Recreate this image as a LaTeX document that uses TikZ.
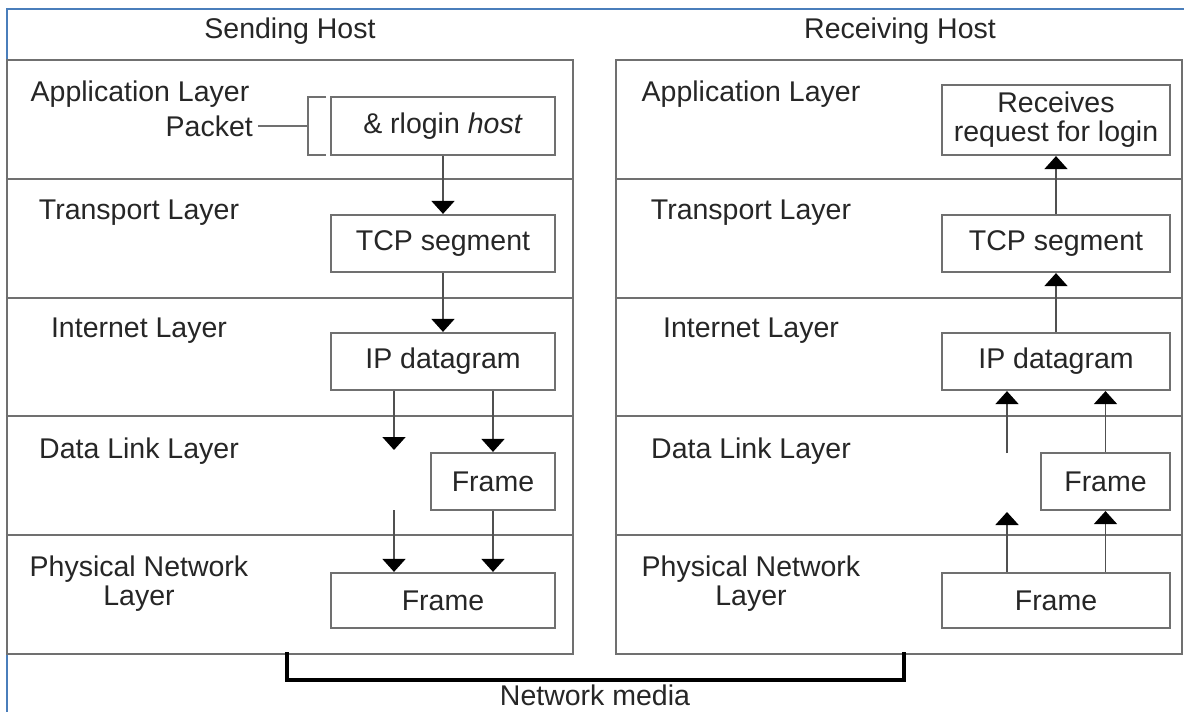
\documentclass[tikz,border=0pt]{standalone}
\usepackage{fontspec}
\setmainfont{Liberation Sans}
\usetikzlibrary{arrows.meta,calc}

\definecolor{framegray}{RGB}{112,112,112}
\definecolor{inkgray}{RGB}{38,38,38}
\definecolor{stemgray}{RGB}{80,80,80}
\definecolor{pageblue}{RGB}{74,126,187}

\tikzset{
  txt/.style={font=\fontsize{28.5}{29}\selectfont, text=inkgray, inner sep=0pt, align=center},
  hostframe/.style={draw=framegray, line width=2.2pt, inner sep=0pt},
  sepline/.style={draw=framegray, line width=2.2pt},
  pdu/.style={draw=framegray, line width=2.2pt, inner sep=0pt, txt},
  arr/.style={draw=stemgray, line width=1.8pt, -{Triangle[width=23pt,length=13pt,color=black]}},
  plainline/.style={draw=framegray, line width=1.8pt},
  media/.style={draw=black, line width=4.2pt, line cap=rect}
}

\begin{document}
\begin{tikzpicture}[x=1pt,y=-1pt]
\useasboundingbox (0,0) rectangle (1184,712);
\fill[white] (0,0) rectangle (1184,712);

% page frame
\draw[pageblue, line width=2.4pt] (7,712) -- (7,9) -- (1184,9);

% host headings
\node[txt] (hsend) at (290,31) {Sending Host};
\node[txt] (hrecv) at (900,31) {Receiving Host};

% host frames
\node[hostframe, minimum width=566pt, minimum height=594pt] (send) at (290,357) {};
\node[hostframe, minimum width=566pt, minimum height=594pt] (recv) at (899,357) {};

% layer separators
\foreach \yy in {179,298,416,535} {
  \draw[sepline] (send.west |- 0,\yy) -- (send.east |- 0,\yy);
  \draw[sepline] (recv.west |- 0,\yy) -- (recv.east |- 0,\yy);
}

% ---- sending host: layer names
\node[txt] (appLS) at (140,94) {Application Layer};
\node[txt, anchor=east] (packet) at (253,126) {Packet};
\node[txt] (tptLS) at (139,213) {Transport Layer};
\node[txt] (intLS) at (139,331) {Internet Layer};
\node[txt] (dlLS)  at (139,451) {Data Link Layer};
\node[txt] (phLS)  at (139,584) {Physical Network\\Layer};

% ---- sending host: data units
\node[pdu, minimum width=224pt, minimum height=58pt] (appS) at (443,126) {\& rlogin \textit{host}};
\node[pdu, minimum width=224pt, minimum height=57pt] (tcpS) at (443,243.5) {TCP segment};
\node[pdu, minimum width=224pt, minimum height=57pt] (ipS)  at (443,361.5) {IP datagram};
\node[pdu, minimum width=124pt, minimum height=57pt] (frdlS) at (493,481.5) {Frame};
\node[pdu, minimum width=224pt, minimum height=55pt] (phS) at (443,600.5) {Frame};

% bracket joining the packet label to its box
\coordinate (brkT) at (326,97);
\coordinate (brkM) at (308,126);
\coordinate (brkB) at (326,155);
\draw[plainline] (brkT) -- (brkT -| brkM) -- (brkB -| brkM) -- (brkB);
\draw[plainline] ([xshift=5pt]packet.east) -- (brkM);

% sending host: downward flow
\coordinate (gapDLs) at (394,450);
\coordinate (gapPHs) at (394,510);
\draw[arr] (appS) -- (tcpS);
\draw[arr] (tcpS) -- (ipS);
\draw[arr] (ipS.south -| gapDLs) -- (gapDLs);
\draw[arr] (ipS.south -| frdlS) -- (frdlS);
\draw[arr] (gapPHs) -- (gapPHs |- phS.north);
\draw[arr] (frdlS) -- (frdlS |- phS.north);

% ---- receiving host: layer names
\node[txt] (appLR) at (751,94) {Application Layer};
\node[txt] (tptLR) at (751,213) {Transport Layer};
\node[txt] (intLR) at (751,331) {Internet Layer};
\node[txt] (dlLR)  at (751,451) {Data Link Layer};
\node[txt] (phLR)  at (751,584) {Physical Network\\Layer};

% ---- receiving host: data units
\node[pdu, minimum width=228pt, minimum height=70pt] (appR) at (1056,120) {Receives\\request for login};
\node[pdu, minimum width=228pt, minimum height=57pt] (tcpR) at (1056,243.5) {TCP segment};
\node[pdu, minimum width=228pt, minimum height=57pt] (ipR)  at (1056,361.5) {IP datagram};
\node[pdu, minimum width=129pt, minimum height=57pt] (frdlR) at (1105.5,481.5) {Frame};
\node[pdu, minimum width=228pt, minimum height=55pt] (phR) at (1056,600.5) {Frame};

% receiving host: upward flow
\coordinate (gapDLr) at (1007,453);
\coordinate (gapPHr) at (1007,512);
\draw[arr] (tcpR) -- (appR);
\draw[arr] (ipR) -- (tcpR);
\draw[arr] (gapDLr) -- (gapDLr |- ipR.south);
\draw[arr] (frdlR) -- (frdlR |- ipR.south);
\draw[arr] (phR.north -| gapPHr) -- (gapPHr);
\draw[arr] (phR.north -| frdlR) -- (frdlR);

% network media between the two hosts
\coordinate (tapS) at (287,654);
\coordinate (tapR) at (904,654);
\draw[media] (tapS) -- ++(0,26) -| (tapR);
\node[txt] (medialbl) at (595,695) {Network media};
\end{tikzpicture}
\end{document}
